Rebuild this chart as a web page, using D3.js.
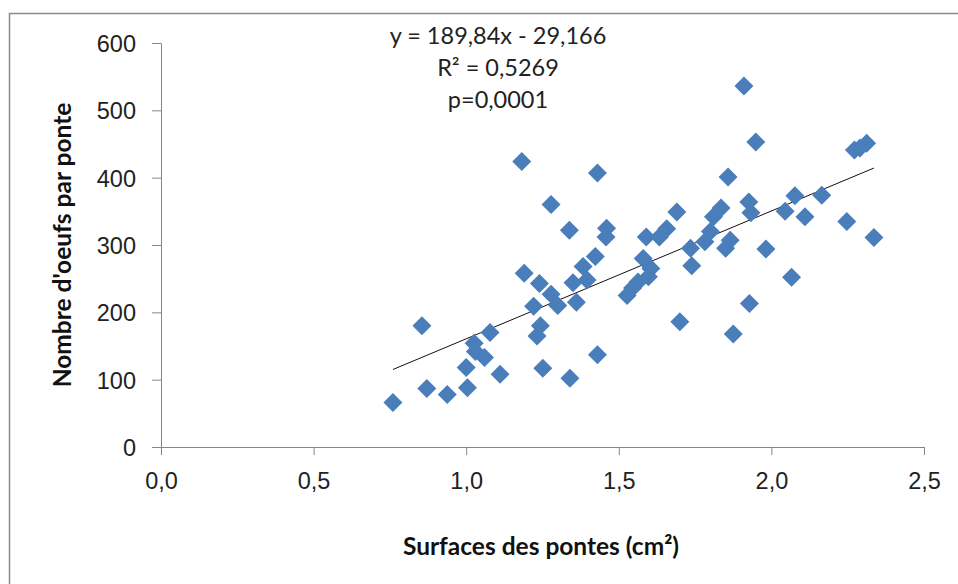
<!DOCTYPE html>
<html>
<head>
<meta charset="utf-8">
<script src="https://cdn.jsdelivr.net/npm/d3@7"></script>
<style>
  html, body { margin: 0; padding: 0; background: #fff; }
  svg { display: block; font-family: Lato, "Open Sans", sans-serif; }
</style>
</head>
<body>
<div id="chart"></div>
<script>
// surface (cm²) et nombre d'oeufs
const surfaces = [
  0.76, 0.855, 0.871, 0.938, 1.00, 1.004, 1.026, 1.030, 1.060, 1.078,
  1.111, 1.182, 1.190, 1.221, 1.232, 1.243, 1.240, 1.251, 1.278, 1.278,
  1.300, 1.338, 1.340, 1.350, 1.361, 1.383, 1.396, 1.423, 1.430, 1.430,
  1.458, 1.460, 1.527, 1.545, 1.563, 1.580, 1.590, 1.597, 1.605, 1.633,
  1.657, 1.690, 1.700, 1.735, 1.739, 1.782, 1.800, 1.810, 1.835, 1.850,
  1.858, 1.865, 1.875, 1.910, 1.926, 1.928, 1.933, 1.949, 1.982, 2.045,
  2.066, 2.077, 2.110, 2.165, 2.247, 2.272, 2.290, 2.312, 2.336
];
const oeufs = [
  66, 180, 87, 78, 118, 88, 154, 142, 133, 170,
  108, 424, 258, 209, 165, 180, 243, 117, 360, 227,
  210, 322, 102, 244, 215, 268, 248, 283, 137, 407,
  312, 325, 225, 236, 245, 280, 312, 253, 265, 312,
  324, 349, 186, 295, 269, 305, 320, 342, 355, 295,
  401, 307, 168, 536, 364, 213, 348, 453, 294, 350,
  252, 373, 342, 374, 335, 441, 444, 451, 311
];
const xTicks = [0, 0.5, 1, 1.5, 2, 2.5];
const yTicks = [0, 100, 200, 300, 400, 500, 600];
const slope = 189.84, intercept = -29.166;
const statLines = ['y = 189,84x - 29,166', 'R² = 0,5269', 'p=0,0001'];

const width = 958, height = 584;
const margin = { top: 43, right: 34, bottom: 137, left: 161 };
const innerW = width - margin.left - margin.right;
const innerH = height - margin.top - margin.bottom;

const svg = d3.select('#chart').append('svg')
  .attr('width', width).attr('height', height)
  .attr('viewBox', `0 0 ${width} ${height}`);

// cadre du graphique
svg.append('rect')
  .attr('x', 9.5).attr('y', 13.5).attr('width', 1000).attr('height', 1000)
  .attr('fill', 'none').attr('stroke', '#8a8a8a').attr('stroke-width', 1.5);

const g = svg.append('g').attr('transform', `translate(${margin.left},${margin.top})`);

const x = d3.scaleLinear().domain([0, 2.5]).range([0, innerW]);
const y = d3.scaleLinear().domain([0, 600]).range([innerH, 0]);

const fmtX = d => d3.format('.1f')(d).replace('.', ',');

const xAxisG = g.append('g').attr('transform', `translate(0,${innerH})`)
  .call(d3.axisBottom(x).tickValues(xTicks).tickFormat(fmtX).tickSize(8).tickSizeOuter(0).tickPadding(22));
const yAxisG = g.append('g')
  .call(d3.axisLeft(y).tickValues(yTicks).tickSize(9).tickSizeOuter(0).tickPadding(16));

[xAxisG, yAxisG].forEach(a => {
  a.selectAll('.domain, line').attr('stroke', '#868686');
  a.selectAll('text').attr('fill', '#222').attr('font-size', 23.5);
});
yAxisG.selectAll('text').attr('dy', '0.36em');
xAxisG.selectAll('text').attr('dy', '0.5em');

// droite de régression
const [xMin, xMax] = d3.extent(surfaces);
g.append('line')
  .attr('x1', x(xMin)).attr('y1', y(slope * xMin + intercept))
  .attr('x2', x(xMax)).attr('y2', y(slope * xMax + intercept))
  .attr('stroke', '#111').attr('stroke-width', 1);

const pts = surfaces.map((s, i) => ({ s, n: oeufs[i] }));
g.selectAll('path.pt').data(pts).join('path')
  .attr('class', 'pt')
  .attr('d', 'M0,-9.5L9.5,0L0,9.5L-9.5,0Z')
  .attr('transform', d => `translate(${x(d.s)},${y(d.n)})`)
  .attr('fill', '#4a7ebb');

svg.append('g').selectAll('text').data(statLines).join('text')
  .attr('x', 498).attr('y', (d, i) => 36 + i * 32)
  .attr('dy', '0.36em')
  .attr('text-anchor', 'middle').attr('font-size', 23.5).attr('fill', '#222')
  .text(d => d);

svg.append('text')
  .attr('x', 541).attr('y', 546).attr('dy', '0.36em')
  .attr('text-anchor', 'middle').attr('font-size', 24.5).attr('font-weight', 'bold').attr('fill', '#111')
  .text('Surfaces des pontes (cm²)');

svg.append('text')
  .attr('transform', 'translate(62,245) rotate(-90)').attr('dy', '0.36em')
  .attr('text-anchor', 'middle').attr('font-size', 24.5).attr('font-weight', 'bold').attr('fill', '#111')
  .text("Nombre d'oeufs par ponte");
</script>
</body>
</html>
